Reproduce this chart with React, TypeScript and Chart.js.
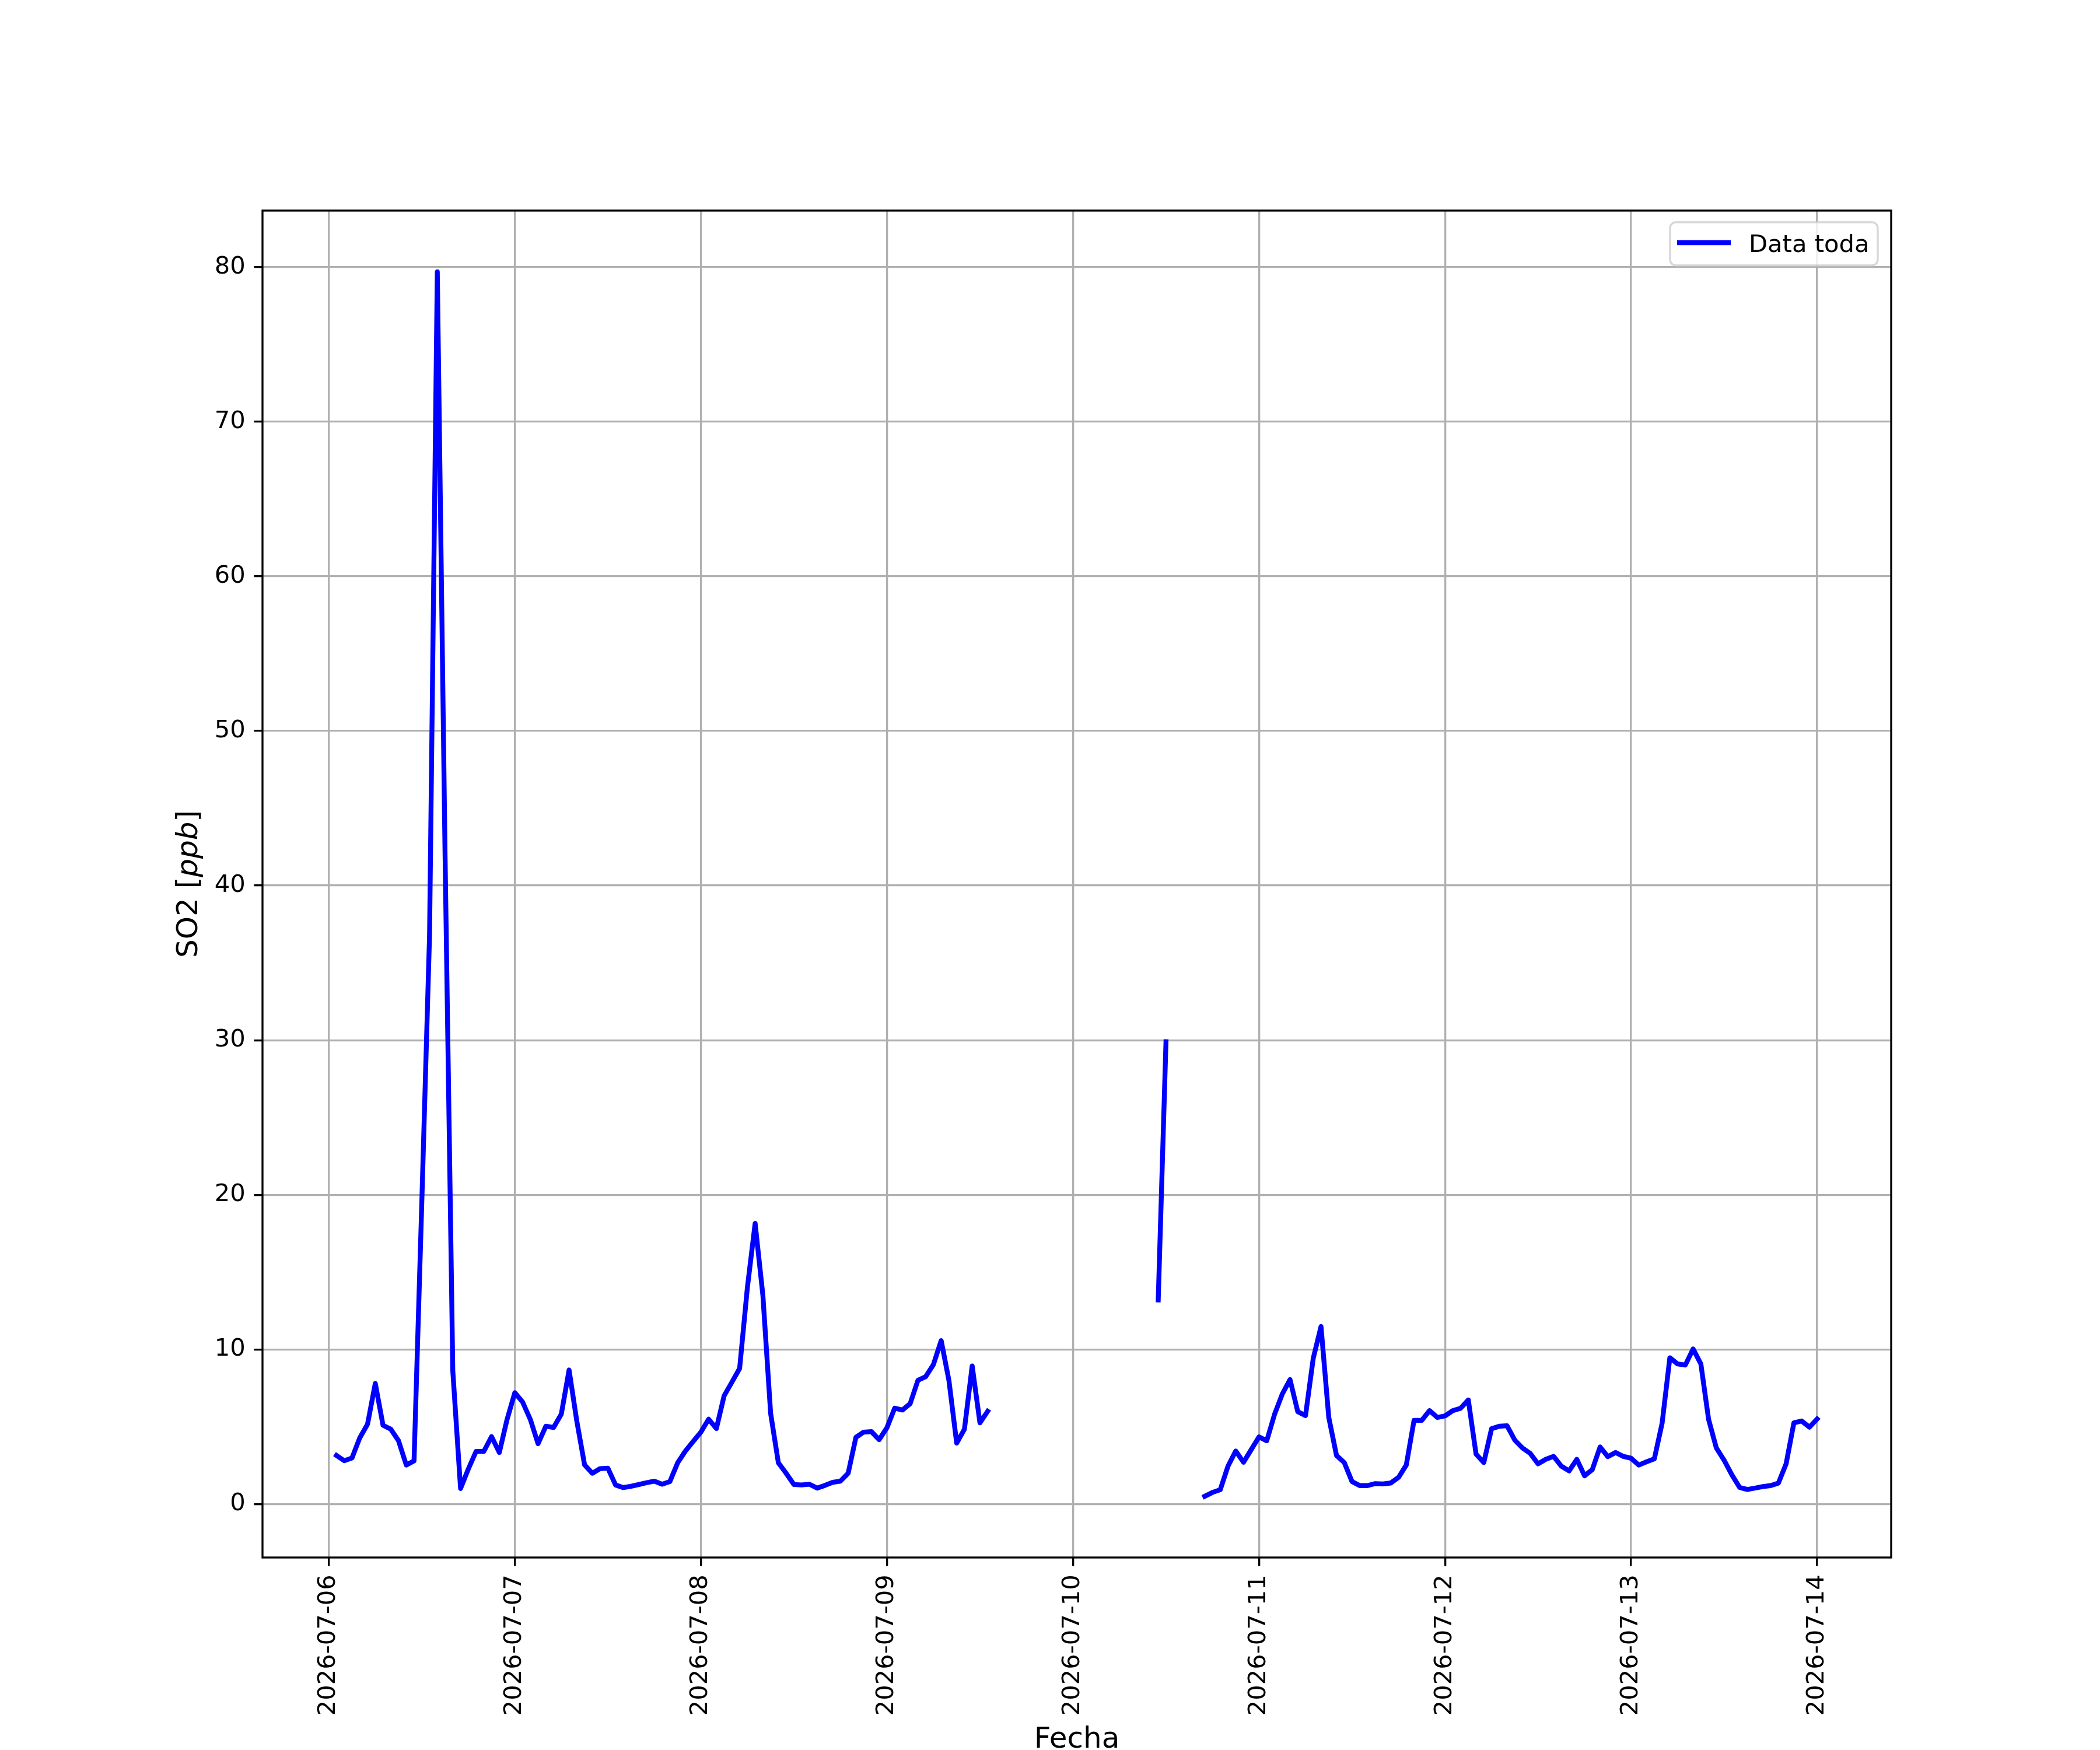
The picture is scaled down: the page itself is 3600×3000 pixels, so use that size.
import React, { useEffect, useRef } from 'react';
import { Chart, registerables } from 'chart.js';

Chart.register(...registerables);

// hourly SO2 readings, hours counted from 2026-07-06 00:00
const SEG1_START = 1;
const SEG1 = [
  3.14, 2.8, 2.98, 4.28, 5.16, 7.8, 5.09, 4.84, 4.09, 2.52,
  2.79, 19.5, 36.8, 79.7, 42, 8.6, 1.0, 2.26, 3.4, 3.4,
  4.36, 3.33, 5.47, 7.2, 6.6, 5.47, 3.9, 5.03, 4.95, 5.82,
  8.67, 5.35, 2.53, 1.99, 2.29, 2.32, 1.23, 1.06, 1.15, 1.26,
  1.38, 1.48, 1.28, 1.45, 2.66, 3.42, 4.04, 4.65, 5.49, 4.88,
  7.0, 7.88, 8.77, 14.0, 18.15, 13.5, 5.86, 2.66, 1.99, 1.26,
  1.23, 1.28, 1.03, 1.2, 1.4, 1.48, 1.99, 4.31, 4.65, 4.68,
  4.16, 4.93, 6.2, 6.08, 6.49, 8.0, 8.24, 9.02, 10.57, 7.99,
  3.94, 4.84, 8.93, 5.25, 6.0,
];
const SEG2_START = 107;
const SEG2 = [13.2, 29.9];
const SEG3_START = 113;
const SEG3 = [
  0.5, 0.75, 0.92, 2.45, 3.43, 2.7, 3.52, 4.34, 4.09, 5.79,
  7.11, 8.05, 5.97, 5.72, 9.43, 11.48, 5.6, 3.14, 2.68, 1.45,
  1.19, 1.19, 1.32, 1.3, 1.36, 1.72, 2.52, 5.41, 5.41, 6.04,
  5.6, 5.7, 6.04, 6.19, 6.73, 3.23, 2.68, 4.87, 5.03, 5.06,
  4.13, 3.62, 3.27, 2.6, 2.89, 3.08, 2.45, 2.14, 2.89, 1.82,
  2.23, 3.69, 3.06, 3.33, 3.08, 2.96, 2.52, 2.73, 2.92, 5.22,
  9.46, 9.06, 8.99, 10.03, 9.06, 5.47, 3.62, 2.83, 1.89, 1.07,
  0.94, 1.03, 1.13, 1.19, 1.35, 2.6, 5.25, 5.37, 4.97, 5.5,
];

const DATE_LABELS = [
  '2026-07-06', '2026-07-07', '2026-07-08', '2026-07-09', '2026-07-10',
  '2026-07-11', '2026-07-12', '2026-07-13', '2026-07-14',
];
const Y_TICKS = [0, 10, 20, 30, 40, 50, 60, 70, 80];

const FONT = '"DejaVu Sans", sans-serif';
const PT = 300 / 72;

type Pt = { x: number; y: number | null };

function buildPoints(): Pt[] {
  const segs: [number, number[]][] = [
    [SEG1_START, SEG1],
    [SEG2_START, SEG2],
    [SEG3_START, SEG3],
  ];
  const pts: Pt[] = [];
  segs.forEach(([start, vals], i) => {
    if (i > 0) pts.push({ x: start - 0.5, y: null });
    vals.forEach((v, k) => pts.push({ x: start + k, y: v }));
  });
  return pts;
}

const framePlugin = {
  id: 'mplFrame',
  afterDatasetsDraw(chart: any) {
    const { ctx, chartArea: a } = chart;
    ctx.save();
    ctx.strokeStyle = '#000';
    ctx.lineWidth = 0.8 * PT;
    ctx.strokeRect(a.left, a.top, a.right - a.left, a.bottom - a.top);
    ctx.restore();
  },
  afterDraw(chart: any) {
    const { ctx, chartArea: a } = chart;
    ctx.save();

    // x label
    ctx.fillStyle = '#000';
    ctx.font = `${12 * PT}px ${FONT}`;
    ctx.textAlign = 'center';
    ctx.textBaseline = 'alphabetic';
    ctx.fillText('Fecha', (a.left + a.right) / 2, 2996);

    // y label with italic unit
    const parts = [
      { t: 'SO2 [', it: false },
      { t: 'ppb', it: true },
      { t: ']', it: false },
    ];
    const fontFor = (it: boolean) => `${it ? 'italic ' : ''}${12 * PT}px ${FONT}`;
    let total = 0;
    parts.forEach((p) => {
      ctx.font = fontFor(p.it);
      total += ctx.measureText(p.t).width;
    });
    ctx.translate(338, (a.top + a.bottom) / 2);
    ctx.rotate(-Math.PI / 2);
    ctx.textAlign = 'left';
    let cx = -total / 2;
    parts.forEach((p) => {
      ctx.font = fontFor(p.it);
      ctx.fillText(p.t, cx, 0);
      cx += ctx.measureText(p.t).width;
    });
    ctx.restore();

    // legend
    ctx.save();
    const bx = a.right - 379, by = a.top + 20, bw = 356, bh = 74, r = 10;
    ctx.beginPath();
    ctx.moveTo(bx + r, by);
    ctx.arcTo(bx + bw, by, bx + bw, by + bh, r);
    ctx.arcTo(bx + bw, by + bh, bx, by + bh, r);
    ctx.arcTo(bx, by + bh, bx, by, r);
    ctx.arcTo(bx, by, bx + bw, by, r);
    ctx.closePath();
    ctx.fillStyle = 'rgba(255,255,255,0.8)';
    ctx.fill();
    ctx.strokeStyle = 'rgba(204,204,204,0.8)';
    ctx.lineWidth = 0.8 * PT;
    ctx.stroke();
    ctx.beginPath();
    ctx.moveTo(bx + 12, by + 35);
    ctx.lineTo(bx + 104, by + 35);
    ctx.strokeStyle = '#0000ff';
    ctx.lineWidth = 2 * PT;
    ctx.stroke();
    ctx.fillStyle = '#000';
    ctx.font = `${10 * PT}px ${FONT}`;
    ctx.textAlign = 'left';
    ctx.textBaseline = 'alphabetic';
    ctx.fillText('Data toda', bx + 135, by + 51);
    ctx.restore();
  },
};

export default function App() {
  const canvasRef = useRef<HTMLCanvasElement | null>(null);

  useEffect(() => {
    if (!canvasRef.current) return;
    const points = buildPoints();
    const ys = points.filter((p) => p.y !== null).map((p) => p.y as number);
    const xs = points.filter((p) => p.y !== null).map((p) => p.x);
    const yMin = Math.min(...ys), yMax = Math.max(...ys);
    const xMin = Math.min(...xs), xMax = Math.max(...xs);
    const yPad = (yMax - yMin) * 0.05, xPad = (xMax - xMin) * 0.05;

    const chart = new Chart(canvasRef.current, {
      type: 'line',
      data: {
        datasets: [
          {
            label: 'Data toda',
            data: points as any,
            borderColor: '#0000ff',
            borderWidth: 2 * PT,
            pointRadius: 0,
            tension: 0,
            spanGaps: false,
            borderJoinStyle: 'round',
            borderCapStyle: 'square',
          },
        ],
      },
      options: {
        animation: false,
        responsive: false,
        devicePixelRatio: 1,
        parsing: { xAxisKey: 'x', yAxisKey: 'y' },
        layout: { padding: { top: 361, right: 358, left: 0, bottom: 0 } },
        plugins: { legend: { display: false }, tooltip: { enabled: false } },
        scales: {
          x: {
            type: 'linear',
            min: xMin - xPad,
            max: xMax + xPad,
            afterBuildTicks: (s: any) => {
              s.ticks = DATE_LABELS.map((_, i) => ({ value: i * 24 }));
            },
            afterFit: (s: any) => {
              s.height = 330;
            },
            grid: {
              color: '#b0b0b0',
              lineWidth: 0.8 * PT,
              tickColor: '#000',
              tickWidth: 0.8 * PT,
              tickLength: 3.5 * PT,
            },
            border: { display: false },
            ticks: {
              autoSkip: false,
              minRotation: 90,
              maxRotation: 90,
              padding: 3.5 * PT,
              color: '#000',
              font: { family: FONT, size: 10 * PT },
              callback: (v: any) => DATE_LABELS[Math.round(Number(v) / 24)] ?? '',
            },
          },
          y: {
            type: 'linear',
            min: yMin - yPad,
            max: yMax + yPad,
            afterBuildTicks: (s: any) => {
              s.ticks = Y_TICKS.map((v) => ({ value: v }));
            },
            afterFit: (s: any) => {
              s.width = 450;
            },
            grid: {
              color: '#b0b0b0',
              lineWidth: 0.8 * PT,
              tickColor: '#000',
              tickWidth: 0.8 * PT,
              tickLength: 3.5 * PT,
            },
            border: { display: false },
            ticks: {
              padding: 3.5 * PT,
              color: '#000',
              font: { family: FONT, size: 10 * PT },
              callback: (v: any) => String(v),
            },
          },
        },
      },
      plugins: [framePlugin],
    });

    return () => {
      chart.destroy();
    };
  }, []);

  return (
    <div style={{ position: 'absolute', left: 0, top: 0, width: 3600, height: 3000, background: '#fff' }}>
      <canvas ref={canvasRef} width={3600} height={3000} style={{ width: 3600, height: 3000 }} />
    </div>
  );
}
